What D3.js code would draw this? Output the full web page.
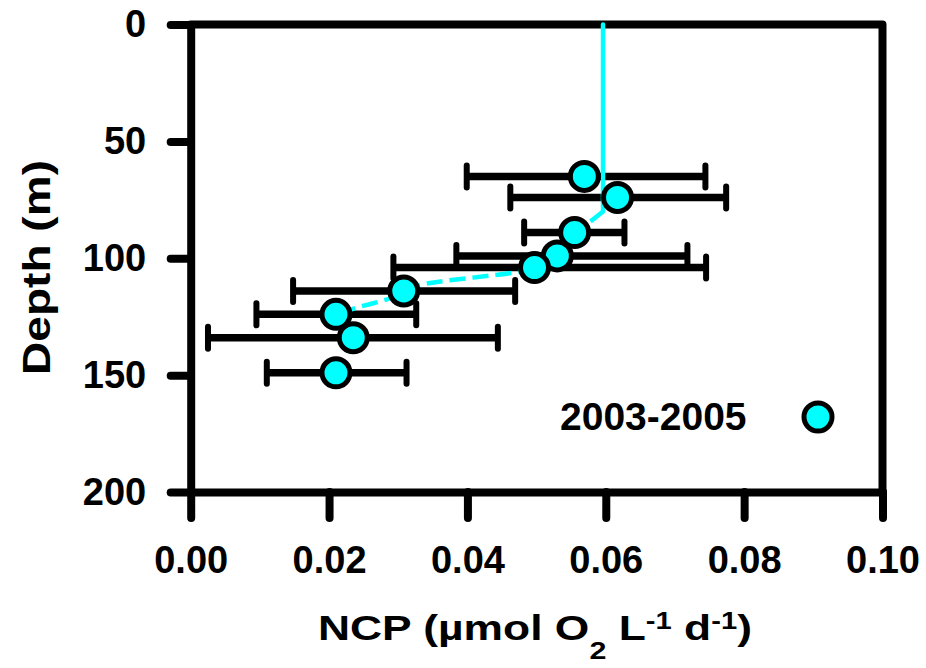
<!DOCTYPE html>
<html>
<head>
<meta charset="utf-8">
<script src="https://cdn.jsdelivr.net/npm/d3@7"></script>
<style>
  html, body { margin: 0; padding: 0; background: #fff; }
  svg { display: block; }
  text { font-family: "Liberation Sans", Arial, Helvetica, sans-serif; font-weight: bold; fill: #000; }
</style>
</head>
<body>
<svg id="chart" width="926" height="668"></svg>
<script>
// Net community production profile, 2003-2005
const depth   = [65, 74, 89, 99, 104, 114, 124, 134, 149];              // m
const ncp     = [0.0569, 0.0617, 0.0555, 0.0530, 0.0497, 0.0308, 0.0210, 0.0235, 0.0210];
const ncpLow  = [0.0399, 0.0462, 0.0482, 0.0384, 0.0293, 0.0148, 0.0095, 0.0025, 0.0110];
const ncpHigh = [0.0744, 0.0774, 0.0627, 0.0718, 0.0745, 0.0469, 0.0326, 0.0444, 0.0312];

// Fitted profile: [NCP, depth]
const fitNcp   = [0.0596, 0.0596, 0.0596, 0.0577, 0.0555, 0.0530, 0.0497, 0.0476, 0.0331, 0.0308, 0.0288, 0.0230, 0.0212, 0.0232, 0.0225];
const fitDepth = [0,      40,     80,     84.4,   89,     99,     104.5,  105.7,  111.4,  114,    117.1,  122.1,  124.5,  134,    142];
const fitSolidTo = 80;   // depth where the fit changes from solid to dashed

const depthTicks = [0, 50, 100, 150, 200];
const ncpTicks   = [0.00, 0.02, 0.04, 0.06, 0.08, 0.10];
const legendLabel = "2003-2005";

const CYAN = "#00FFFF";

const svg = d3.select("#chart");

const x = d3.scaleLinear().domain([0, 0.1]).range([190.7, 882.5]);
const y = d3.scaleLinear().domain([0, 200]).range([24.5, 492]);

// Frame: top and right edges
svg.append("path")
  .attr("d", d3.line()([[x(0), y(0)], [x(0.1), y(0)], [x(0.1), y(200)]]))
  .attr("fill", "none").attr("stroke", "#000").attr("stroke-width", 8)
  .attr("stroke-linejoin", "round").attr("stroke-linecap", "round");

function styleAxis(g) {
  g.attr("font-size", null).attr("font-family", null);
  g.select(".domain").attr("stroke-width", 8).attr("stroke-linecap", "round");
  g.selectAll(".tick line").attr("stroke-width", 8).attr("stroke-linecap", "round");
  g.selectAll(".tick text").attr("font-size", 38).attr("fill", "#000");
}

svg.append("g")
  .attr("transform", `translate(${x(0)},0)`)
  .call(d3.axisLeft(y).tickValues(depthTicks).tickSize(20).tickPadding(24.5)
        .tickSizeOuter(0).tickFormat(d3.format("d")))
  .call(styleAxis);

svg.append("g")
  .attr("transform", `translate(0,${y(200)})`)
  .call(d3.axisBottom(x).tickValues(ncpTicks).tickSize(26).tickPadding(28.5)
        .tickSizeOuter(0).tickFormat(d3.format(".2f")))
  .call(styleAxis);

// Error bars
const obs = depth.map((d, i) => ({ d, v: ncp[i], lo: ncpLow[i], hi: ncpHigh[i] }));
const eb = svg.append("g").attr("stroke", "#000");
eb.selectAll("line.bar").data(obs).join("line").attr("class", "bar")
  .attr("x1", o => x(o.lo)).attr("x2", o => x(o.hi))
  .attr("y1", o => y(o.d)).attr("y2", o => y(o.d))
  .attr("stroke-width", 7.5);
eb.selectAll("line.cap").data(obs.flatMap(o => [[o.lo, o.d], [o.hi, o.d]])).join("line").attr("class", "cap")
  .attr("x1", c => x(c[0])).attr("x2", c => x(c[0]))
  .attr("y1", c => y(c[1]) - 11).attr("y2", c => y(c[1]) + 11)
  .attr("stroke-width", 6).attr("stroke-linecap", "round");

// Fitted profile line
const fit = fitNcp.map((v, i) => [v, fitDepth[i]]);
const fitLine = d3.line().x(p => x(p[0])).y(p => y(p[1])).curve(d3.curveMonotoneY);
svg.append("path")
  .attr("d", fitLine(fit.filter(p => p[1] <= fitSolidTo)))
  .attr("fill", "none").attr("stroke", CYAN).attr("stroke-width", 4.5).attr("stroke-linecap", "round");
svg.append("path")
  .attr("d", fitLine(fit.filter(p => p[1] >= fitSolidTo)))
  .attr("fill", "none").attr("stroke", CYAN).attr("stroke-width", 4.5)
  .attr("stroke-dasharray", "16 7");

// Observations
svg.append("g").selectAll("circle").data(obs).join("circle")
  .attr("cx", o => x(o.v)).attr("cy", o => y(o.d)).attr("r", 14)
  .attr("fill", CYAN).attr("stroke", "#000").attr("stroke-width", 5);

// Legend
svg.append("text").attr("x", 560).attr("y", 430).attr("font-size", 39).text(legendLabel);
svg.append("circle").attr("cx", 818).attr("cy", 417).attr("r", 14)
  .attr("fill", CYAN).attr("stroke", "#000").attr("stroke-width", 5);

// Axis titles
const yTitleG = svg.append("g").attr("transform", "translate(50,267.5) rotate(-90)");
const yTitle = yTitleG.append("text").attr("text-anchor", "middle").attr("font-size", 39).text("Depth (m)");
const yw = yTitle.node().getBBox().width;
yTitle.attr("transform", `scale(${215 / yw},1)`);

const xTitleG = svg.append("g").attr("transform", "translate(318,640)");
const xTitle = xTitleG.append("text").attr("font-size", 35);
xTitle.append("tspan").text("NCP (\u00B5mol O");
xTitle.append("tspan").attr("font-size", 24).attr("dy", 19).text("2");
xTitle.append("tspan").attr("dy", -19).text(" L");
xTitle.append("tspan").attr("font-size", 23).attr("dy", -11).text("-1");
xTitle.append("tspan").attr("dy", 11).text(" d");
xTitle.append("tspan").attr("font-size", 23).attr("dy", -11).text("-1");
xTitle.append("tspan").attr("dy", 11).text(")");
const xw = xTitle.node().getBBox().width;
xTitle.attr("transform", `scale(${434 / xw},1)`);
</script>
</body>
</html>
